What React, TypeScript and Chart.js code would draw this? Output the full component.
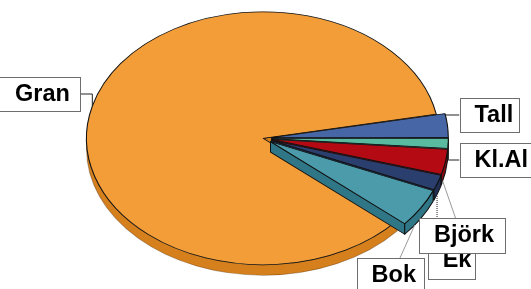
import { useEffect, useRef } from 'react';
import { Chart, registerables } from 'chart.js';

Chart.register(...registerables);

// ---- data ----
const categories = ['Gran', 'Tall', 'Kl.Al', 'Björk', 'Ek', 'Bok'];
const shares = [85.7, 3.0, 1.3, 3.2, 1.9, 4.9];

// ---- styles ----
const topColors = ['#F29D38', '#4666A5', '#5ABAA0', '#B30A14', '#2B3F6E', '#4C9BAA'];
const sideColors = ['#D5801C', '#34508A', '#3F9580', '#880A10', '#1F2E52', '#2F7686'];
const explodedSlices = [false, true, true, true, true, true];

const RX = 176.5;
const RY = 126.5;
const DEPTH = 10.5;
const EXPLODE = 0.05;
const FONT = 'bold 23.5px "Liberation Sans", Arial, sans-serif';

type Geo = { arcs: any[]; cx: number; cy: number; r: number; kx: number; ky: number; d: number };

function geometry(chart: any): Geo {
  const arcs = chart.getDatasetMeta(0).data as any[];
  const a0 = arcs[0];
  const r = a0.outerRadius;
  const kx = RX / r;
  const ky = RY / r;
  return { arcs, cx: a0.x, cy: a0.y, r, kx, ky, d: DEPTH / ky };
}

function explodeShift(g: Geo, i: number) {
  const arc = g.arcs[i];
  const mid = (arc.startAngle + arc.endAngle) / 2;
  const e = explodedSlices[i] ? EXPLODE * g.r : 0;
  return { dx: Math.cos(mid) * e, dy: Math.sin(mid) * e };
}

function toScreen(g: Geo, px: number, py: number) {
  return { x: g.cx + (px - g.cx) * g.kx, y: g.cy + (py - g.cy) * g.ky };
}

function anchor(g: Geo, i: number, t: number, bottom: boolean) {
  const arc = g.arcs[i];
  const { dx, dy } = explodeShift(g, i);
  const a = arc.startAngle + t * (arc.endAngle - arc.startAngle);
  const px = arc.x + dx + Math.cos(a) * g.r;
  const py = arc.y + dy + Math.sin(a) * g.r + (bottom ? g.d : 0);
  return toScreen(g, px, py);
}

const pie3d = {
  id: 'pie3d',
  beforeDatasetsDraw(chart: any) {
    const g = geometry(chart);
    const ctx = chart.ctx as CanvasRenderingContext2D;
    ctx.save();
    ctx.translate(g.cx, g.cy);
    ctx.scale(g.kx, g.ky);
    ctx.translate(-g.cx, -g.cy);
    g.arcs.forEach((arc: any, i: number) => {
      const { dx, dy } = explodeShift(g, i);
      const x = arc.x;
      const y = arc.y;
      const R = g.r;
      const s = arc.startAngle;
      const e = arc.endAngle;
      ctx.save();
      ctx.translate(dx, dy);
      ctx.fillStyle = sideColors[i];
      ctx.lineWidth = 0.8;
      ctx.lineJoin = 'round';
      // radial faces
      const faces: number[] = [];
      if (Math.cos(e) > 0) faces.push(e);
      if (Math.cos(s) < 0) faces.push(s);
      faces.forEach((a) => {
        ctx.beginPath();
        ctx.moveTo(x, y);
        ctx.lineTo(x + Math.cos(a) * R, y + Math.sin(a) * R);
        ctx.lineTo(x + Math.cos(a) * R, y + Math.sin(a) * R + g.d);
        ctx.lineTo(x, y + g.d);
        ctx.closePath();
        ctx.fill();
        ctx.strokeStyle = '#111';
        ctx.stroke();
      });
      // outer wall (front half)
      for (let k = -2; k <= 2; k++) {
        const a = Math.max(s, 2 * Math.PI * k);
        const b = Math.min(e, 2 * Math.PI * k + Math.PI);
        if (b <= a) continue;
        ctx.beginPath();
        ctx.arc(x, y, R, a, b);
        ctx.arc(x, y + g.d, R, b, a, true);
        ctx.closePath();
        ctx.fill();
        ctx.strokeStyle = i === 0 ? 'rgba(60,30,0,0.35)' : '#111';
        ctx.stroke();
      }
      arc.draw(ctx);
      ctx.restore();
    });
    ctx.restore();
    return false;
  },
  afterDraw(chart: any) {
    const g = geometry(chart);
    const ctx = chart.ctx as CanvasRenderingContext2D;
    type Lbl = {
      i: number;
      box: [number, number, number, number];
      tx: number;
      t: number;
      bottom: boolean;
      from: [number, number];
      elbow: 'h' | 'v' | 'none';
      color: string;
      dash: number[];
    };
    const labels: Lbl[] = [
      { i: 0, box: [-6, 77, 86, 34], tx: 15, t: 0.5, bottom: false, from: [80, 94], elbow: 'h', color: '#222', dash: [] },
      { i: 1, box: [459.5, 98, 59, 34], tx: 474.5, t: 0.05, bottom: false, from: [459.5, 115], elbow: 'h', color: '#222', dash: [] },
      { i: 2, box: [459.5, 143, 80, 34], tx: 474.5, t: 0.5, bottom: false, from: [459.5, 160], elbow: 'h', color: '#222', dash: [] },
      { i: 4, box: [427.7, 243, 47, 36], tx: 442.7, t: 0.6, bottom: true, from: [436.5, 245], elbow: 'v', color: '#222', dash: [1, 1] },
      { i: 3, box: [419, 218, 85.6, 35], tx: 434, t: 0.85, bottom: true, from: [455.5, 218], elbow: 'none', color: '#999', dash: [] },
      { i: 5, box: [356.6, 258, 67.4, 36], tx: 371.6, t: 0.7, bottom: true, from: [400, 258], elbow: 'none', color: '#999', dash: [] },
    ];
    ctx.save();
    // leader lines
    labels.forEach((l) => {
      const p = anchor(g, l.i, l.t, l.bottom);
      ctx.beginPath();
      ctx.strokeStyle = l.color;
      ctx.lineWidth = 1;
      ctx.setLineDash(l.dash);
      if (l.elbow === 'h') {
        ctx.moveTo(l.from[0], l.from[1]);
        ctx.lineTo(p.x, l.from[1]);
        ctx.lineTo(p.x, p.y);
      } else if (l.elbow === 'v') {
        ctx.moveTo(p.x, l.from[1]);
        ctx.lineTo(p.x, p.y);
      } else {
        ctx.moveTo(l.from[0], l.from[1]);
        ctx.lineTo(p.x, p.y);
      }
      ctx.stroke();
    });
    ctx.setLineDash([]);
    // boxes
    labels.forEach((l) => {
      const [x, y, w, h] = l.box;
      ctx.fillStyle = '#fff';
      ctx.fillRect(x, y, w, h);
      ctx.strokeStyle = '#6e6e6e';
      ctx.lineWidth = 1;
      ctx.strokeRect(Math.round(x) + 0.5, Math.round(y) + 0.5, Math.round(w), Math.round(h));
      ctx.fillStyle = '#000';
      ctx.font = FONT;
      ctx.textAlign = 'left';
      ctx.textBaseline = 'alphabetic';
      ctx.fillText(categories[l.i], l.tx, y + 24);
    });
    ctx.restore();
  },
};

export default function App() {
  const ref = useRef<HTMLCanvasElement>(null);
  useEffect(() => {
    document.body.style.margin = '0';
    const chart = new Chart(ref.current as HTMLCanvasElement, {
      type: 'pie',
      data: {
        labels: categories,
        datasets: [
          {
            data: shares,
            backgroundColor: topColors,
            borderColor: '#111',
            borderWidth: 0.85,
            hoverOffset: 0,
          },
        ],
      },
      options: {
        responsive: false,
        maintainAspectRatio: false,
        animation: false,
        events: [],
        rotation: 130.5,
        layout: { padding: { left: 0, right: 5, top: 0, bottom: 12.4 } },
        plugins: {
          legend: { display: false },
          tooltip: { enabled: false },
        },
      },
      plugins: [pie3d],
    });
    return () => chart.destroy();
  }, []);
  return (
    <div style={{ width: 531, height: 289 }}>
      <canvas ref={ref} width={531} height={289} style={{ display: 'block' }} />
    </div>
  );
}
